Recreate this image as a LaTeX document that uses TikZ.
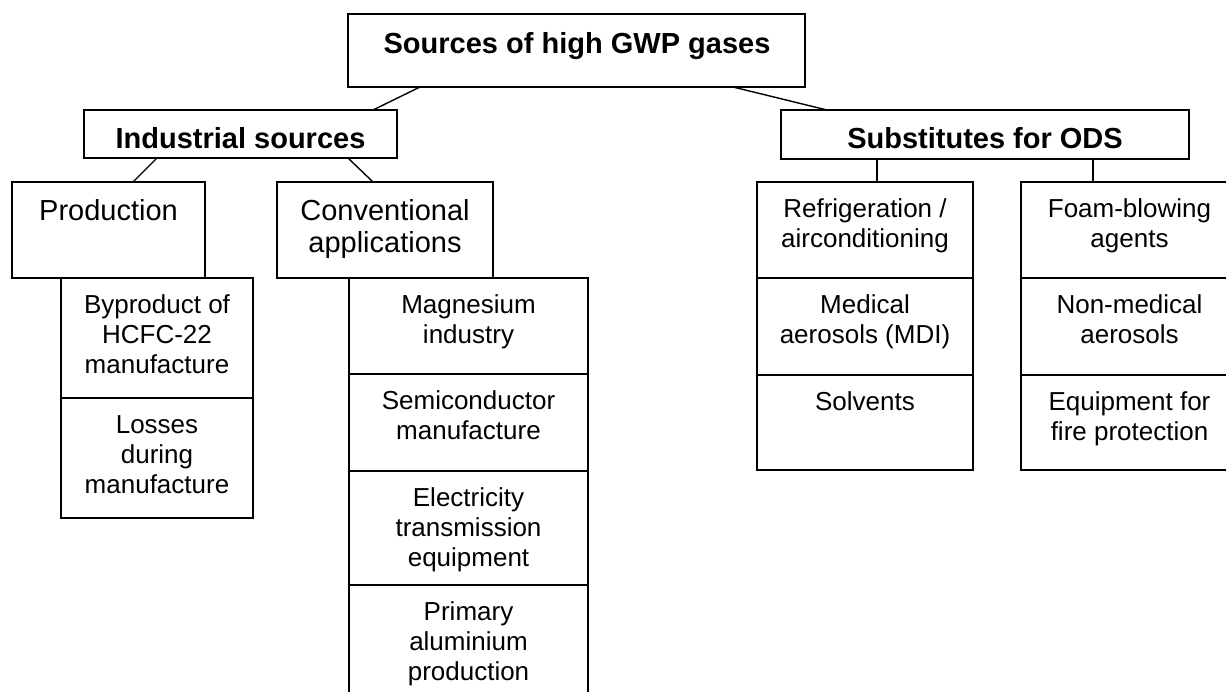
\documentclass[tikz,border=0pt]{standalone}
\usepackage{fontspec}
\setmainfont{Liberation Sans}
% invisible strut that fixes the height of the first text line
\newcommand\boxstrut{\rule{0pt}{22pt}}
\begin{document}
\begin{tikzpicture}[x=1pt, y=-1pt,
  cell/.style={draw, rectangle, line width=1.7pt, inner sep=0pt, outer sep=0pt},
  head/.style={anchor=base, inner sep=0pt, font=\fontsize{29}{33}\selectfont\bfseries},
  mid/.style={anchor=north, inner sep=0pt, align=center, font=\fontsize{29}{32}\selectfont},
  leaf/.style={anchor=north, inner sep=0pt, align=center, font=\fontsize{26}{30}\selectfont},
  link/.style={line width=1.4pt}]
\useasboundingbox (0,0) rectangle (1226,691);
\clip (0,0) rectangle (1226,691);

% ---- boxes ----
\node[cell, minimum width=457pt, minimum height=73pt] (root) at (576.5,50.5) {};
\node[cell, minimum width=313pt, minimum height=48pt] (ind) at (240.5,134) {};
\node[cell, minimum width=408pt, minimum height=49pt] (sub) at (985,134.5) {};

\node[cell, minimum width=193pt, minimum height=96pt] (prod) at (108.5,230) {};
\node[cell, minimum width=216pt, minimum height=96pt] (conv) at (385,230) {};

\node[cell, minimum width=192pt, minimum height=120pt] (byp)  at (157,338) {};
\node[cell, minimum width=192pt, minimum height=120pt] (loss) at (157,458) {};

\node[cell, minimum width=239pt, minimum height=96pt]  (mag)  at (468.5,326) {};
\node[cell, minimum width=239pt, minimum height=97pt]  (semi) at (468.5,422.5) {};
\node[cell, minimum width=239pt, minimum height=114pt] (elec) at (468.5,528) {};
\node[cell, minimum width=239pt, minimum height=135pt] (prim) at (468.5,652.5) {};

\node[cell, minimum width=216pt, minimum height=96pt] (refr) at (865,230) {};
\node[cell, minimum width=216pt, minimum height=97pt] (med)  at (865,326.5) {};
\node[cell, minimum width=216pt, minimum height=95pt] (solv) at (865,422.5) {};

\node[cell, minimum width=217pt, minimum height=96pt] (foam)   at (1129.5,230) {};
\node[cell, minimum width=217pt, minimum height=97pt] (nonmed) at (1129.5,326.5) {};
\node[cell, minimum width=217pt, minimum height=95pt] (equip)  at (1129.5,422.5) {};

% ---- texts ----
\node[head] (root-t) at (577,53) {Sources of high GWP gases};
\node[head] (ind-t) at (240.5,148) {Industrial sources};
\node[head] (sub-t) at (985,148) {Substitutes for ODS};

\node[mid] (prod-t) at ([yshift=-16pt]prod.north) {\boxstrut Production};
\node[mid] (conv-t) at ([yshift=-16pt]conv.north) {\boxstrut Conventional\\applications};

\node[leaf] (byp-t)  at ([yshift=-13pt]byp.north)  {\boxstrut Byproduct of\\HCFC-22\\manufacture};
\node[leaf] (loss-t) at ([yshift=-13pt]loss.north) {\boxstrut Losses\\during\\manufacture};

\node[leaf] (mag-t)  at ([yshift=-13pt]mag.north)  {\boxstrut Magnesium\\industry};
\node[leaf] (semi-t) at ([yshift=-13pt]semi.north) {\boxstrut Semiconductor\\manufacture};
\node[leaf] (elec-t) at ([yshift=-13pt]elec.north) {\boxstrut Electricity\\transmission\\equipment};
\node[leaf] (prim-t) at ([yshift=-13pt]prim.north) {\boxstrut Primary\\aluminium\\production};

\node[leaf] (refr-t) at ([yshift=-13pt]refr.north) {\boxstrut Refrigeration /\\airconditioning};
\node[leaf] (med-t)  at ([yshift=-13pt]med.north)  {\boxstrut Medical\\aerosols (MDI)};
\node[leaf] (solv-t) at ([yshift=-13pt]solv.north) {\boxstrut Solvents};

\node[leaf] (foam-t)   at ([yshift=-13pt]foam.north)   {\boxstrut Foam-blowing\\agents};
\node[leaf] (nonmed-t) at ([yshift=-13pt]nonmed.north) {\boxstrut Non-medical\\aerosols};
\node[leaf] (equip-t)  at ([yshift=-13pt]equip.north)  {\boxstrut Equipment for\\fire protection};

% ---- connectors ----
\draw[link] ([xshift=72pt]root.south west) -- ([xshift=289pt]ind.north west);
\draw[link] ([xshift=385pt]root.south west) -- ([xshift=46pt]sub.north west);
\draw[link] ([xshift=73pt]ind.south west) -- ([xshift=121pt]prod.north west);
\draw[link] ([xshift=264pt]ind.south west) -- ([xshift=96pt]conv.north west);
\coordinate (s1) at ([xshift=96pt]sub.south west);
\coordinate (s2) at ([xshift=312pt]sub.south west);
\draw[link] (s1) -- (s1 |- refr.north);
\draw[link] (s2) -- (s2 |- foam.north);
\end{tikzpicture}
\end{document}
